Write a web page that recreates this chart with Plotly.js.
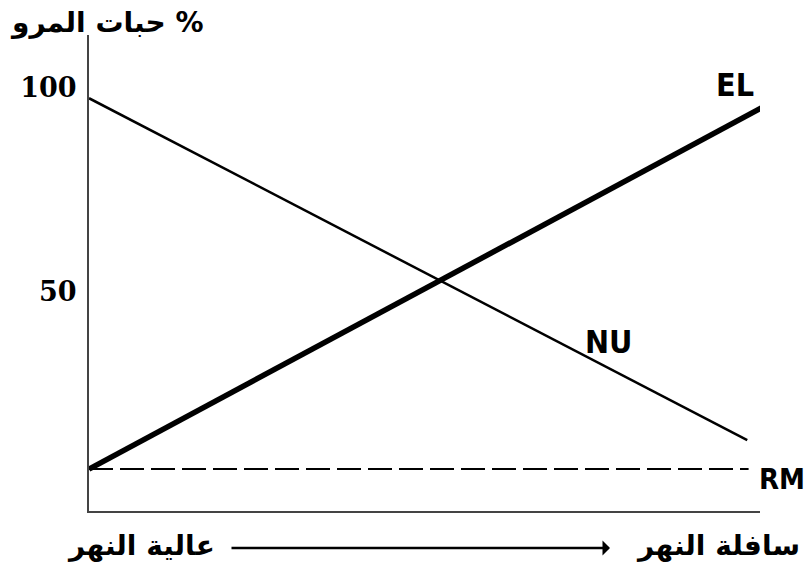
<!DOCTYPE html>
<html>
<head>
<meta charset="utf-8">
<script src="https://cdn.plot.ly/plotly-3.0.1.min.js"></script>
<style>
  html, body { margin: 0; padding: 0; background: #fff; }
  #chart { width: 810px; height: 564px; }
</style>
</head>
<body>
<div id="chart"></div>
<script>
// distance along the river (0 = upstream, 100 = downstream)
const nu_x = [0, 98.1]
const nu_y = [97.5, 13.7]
const el_x = [0, 100.4]
const el_y = [6.6, 95.3]
const rm_x = [0, 98.3]
const rm_y = [6.6, 6.6]

const y_ticks = [50, 100]
const y_labels = ["50", "100"]

// written so the % lands on the right, as in the picture
const title_text = "حبات المرو %"
const upstream = "عالية النهر"
const downstream = "سافلة النهر"

const latin_bold = "DejaVu Sans Condensed, Liberation Sans Narrow, DejaVu Sans"
const arabic_font = "DejaVu Sans, Noto Sans"

const traces = [
  {
    x: nu_x, y: nu_y, type: "scatter", mode: "lines", name: "NU",
    line: { color: "#000", width: 2.5 }, cliponaxis: false,
  },
  {
    x: el_x, y: el_y, type: "scatter", mode: "lines", name: "EL",
    line: { color: "#000", width: 5.5 }, cliponaxis: false,
  },
  {
    x: rm_x, y: rm_y, type: "scatter", mode: "lines", name: "RM",
    line: { color: "#000", width: 2, dash: "24px,7px" }, cliponaxis: false,
  },
]

const px = (x) => (x - 89) / 671
const py = (y) => (511 - y) / 476

const label = (text, x, y, size) => ({
  x: px(x), y: py(y), xref: "paper", yref: "paper", text, showarrow: false,
  xanchor: "center", yanchor: "middle",
  font: { family: latin_bold, size: size, color: "#000", weight: "bold" },
})

const arabic = (text, x, y) => ({
  x: px(x), y: py(y), xref: "paper", yref: "paper", text, showarrow: false,
  xanchor: "center", yanchor: "middle",
  font: { family: arabic_font, size: 28, color: "#000", weight: "bold" },
})

const layout = {
  width: 810,
  height: 564,
  margin: { l: 89, r: 50, t: 35, b: 53 },
  paper_bgcolor: "#fff",
  plot_bgcolor: "#fff",
  showlegend: false,
  title: {
    text: title_text,
    xref: "container", yref: "container",
    x: 12 / 810, xanchor: "left",
    y: 1 - 22 / 564, yanchor: "middle",
    font: { family: arabic_font, size: 28, color: "#000", weight: "bold" },
  },
  xaxis: {
    range: [0, 100],
    showline: true, linecolor: "#444", linewidth: 2,
    showgrid: false, zeroline: false, showticklabels: false, ticks: "",
    fixedrange: true,
  },
  yaxis: {
    range: [-3.68, 113],
    showline: true, linecolor: "#444", linewidth: 2,
    showgrid: false, zeroline: false, ticks: "",
    tickvals: y_ticks, ticktext: y_labels,
    ticklabelstandoff: 5,
    tickfont: { family: "DejaVu Serif, Liberation Serif", size: 27, color: "#000", weight: "bold" },
    fixedrange: true,
  },
  annotations: [
    label("EL", 735, 85, 32),
    label("NU", 608, 342, 32),
    label("RM", 782, 479, 29),
    arabic(upstream, 141, 545),
    arabic(downstream, 718, 545),
    {
      xref: "paper", yref: "paper", x: px(610), y: py(548),
      ax: -380, ay: 0, text: "", showarrow: true,
      arrowhead: 1, arrowsize: 1, arrowwidth: 2.5, arrowcolor: "#000",
    },
  ],
}

Plotly.newPlot("chart", traces, layout, { displayModeBar: false, staticPlot: true })
</script>
</body>
</html>
